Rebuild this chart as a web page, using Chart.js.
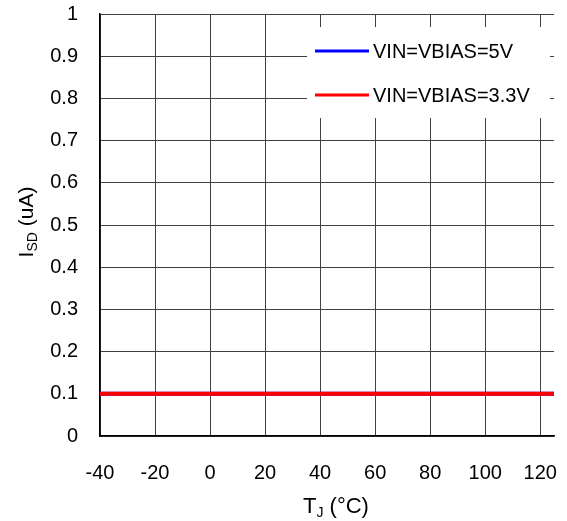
<!DOCTYPE html>
<html>
<head>
<meta charset="UTF-8">
<script src="https://cdn.jsdelivr.net/npm/chart.js@4"></script>
<style>
  html, body { margin: 0; padding: 0; background: #fff; }
  #wrap { width: 567px; height: 521px; position: relative; }
</style>
</head>
<body>
<div id="wrap"><canvas id="c" width="567" height="521"></canvas></div>
<script>
// Shutdown current vs junction temperature
var temps = [-40, -20, 0, 20, 40, 60, 80, 100, 120, 125];
var isd5V = [0.1, 0.1, 0.1, 0.1, 0.1, 0.1, 0.1, 0.1, 0.1, 0.1];
var isd3V3 = [0.1, 0.1, 0.1, 0.1, 0.1, 0.1, 0.1, 0.1, 0.1, 0.1];
var seriesNames = ['VIN=VBIAS=5V', 'VIN=VBIAS=3.3V'];
var xTicks = [-40, -20, 0, 20, 40, 60, 80, 100, 120];
var yTicks = [0, 0.1, 0.2, 0.3, 0.4, 0.5, 0.6, 0.7, 0.8, 0.9, 1];

var FONT = '"Liberation Sans", Arial, sans-serif';

function pts(ys) {
    return temps.map(function(t, i) { return { x: t, y: ys[i] }; });
}

// legend box drawn on top of the grid, plus the subscripted axis titles
var decor = {
    id: 'decor',
    afterDraw: function(chart) {
        var ctx = chart.ctx;
        ctx.save();

        // legend
        var bx = 307, by = 27, bw = 243, bh = 91;
        ctx.fillStyle = '#fff';
        ctx.fillRect(bx, by, bw, bh);
        ctx.font = '20px ' + FONT;
        ctx.textBaseline = 'middle';
        chart.data.datasets.forEach(function(ds, i) {
            var y = 51 + i * 44;
            ctx.strokeStyle = ds.borderColor;
            ctx.lineWidth = 3;
            ctx.beginPath();
            ctx.moveTo(315, y);
            ctx.lineTo(369, y);
            ctx.stroke();
            ctx.fillStyle = '#000';
            ctx.textAlign = 'left';
            ctx.fillText(ds.label, 373, y + 1);
        });

        // x title: T_J (°C)
        ctx.fillStyle = '#000';
        ctx.textBaseline = 'alphabetic';
        ctx.textAlign = 'left';
        var xt = 303, yt = 513;
        ctx.font = '22px ' + FONT;
        ctx.fillText('T', xt, yt);
        var w = ctx.measureText('T').width;
        ctx.font = '14px ' + FONT;
        ctx.fillText('J', xt + w, yt + 4);
        var w2 = ctx.measureText('J').width;
        ctx.font = '22px ' + FONT;
        ctx.fillText(' (°C)', xt + w + w2, yt);

        // y title: I_SD (uA), rotated
        ctx.translate(33, 222);
        ctx.rotate(-Math.PI / 2);
        ctx.font = '21px ' + FONT;
        var a = ctx.measureText('I').width;
        ctx.font = '14px ' + FONT;
        var b = ctx.measureText('SD').width;
        ctx.font = '21px ' + FONT;
        var c = ctx.measureText(' (uA)').width;
        var start = -(a + b + c) / 2;
        ctx.fillText('I', start, 0);
        ctx.font = '14px ' + FONT;
        ctx.fillText('SD', start + a, 4);
        ctx.font = '21px ' + FONT;
        ctx.fillText(' (uA)', start + a + b, 0);

        ctx.restore();
    }
};

function noPad(scale) {
    scale.paddingLeft = 0;
    scale.paddingRight = 0;
    scale.paddingTop = 0;
    scale.paddingBottom = 0;
}

new Chart(document.getElementById('c'), {
    type: 'line',
    data: {
        datasets: [
            { label: seriesNames[0], data: pts(isd5V), borderColor: '#0000ff', borderWidth: 4, pointRadius: 0, tension: 0, order: 1 },
            { label: seriesNames[1], data: pts(isd3V3), borderColor: '#ff0000', borderWidth: 4, pointRadius: 0, tension: 0, order: 0 }
        ]
    },
    options: {
        responsive: false,
        animation: false,
        events: [],
        layout: { padding: { top: 14, right: 13, left: 0, bottom: 0 } },
        plugins: { legend: { display: false }, tooltip: { enabled: false } },
        scales: {
            x: {
                type: 'linear',
                min: -40,
                max: 125,
                afterBuildTicks: function(scale) {
                    scale.ticks = xTicks.map(function(v) { return { value: v }; });
                },
                afterFit: function(scale) { scale.height = 85; noPad(scale); },
                grid: { color: '#404040', lineWidth: 1, drawTicks: false },
                border: { color: '#000', width: 1.5 },
                ticks: {
                    padding: 25,
                    color: '#000',
                    font: { family: FONT, size: 20 },
                    maxRotation: 0,
                    autoSkip: false,
                    callback: function(v) { return String(v); }
                }
            },
            y: {
                min: 0,
                max: 1,
                afterBuildTicks: function(scale) {
                    scale.ticks = yTicks.map(function(v) { return { value: v }; });
                },
                afterFit: function(scale) { scale.width = 100; noPad(scale); },
                grid: { color: '#404040', lineWidth: 1, drawTicks: false },
                border: { color: '#000', width: 1.5 },
                ticks: {
                    padding: 22,
                    color: '#000',
                    font: { family: FONT, size: 20 },
                    autoSkip: false,
                    callback: function(v) { return String(Math.round(v * 10) / 10); }
                }
            }
        }
    },
    plugins: [decor]
});
</script>
</body>
</html>
